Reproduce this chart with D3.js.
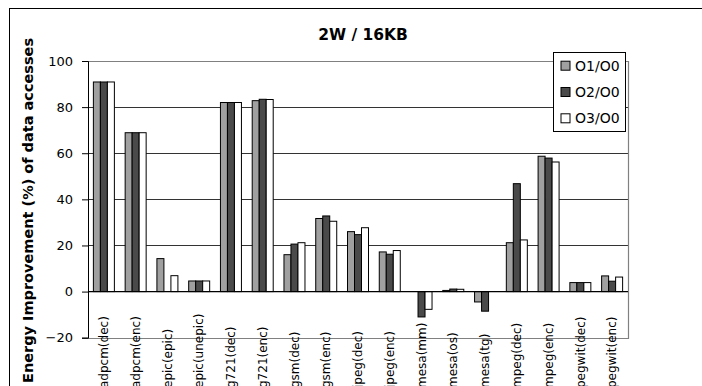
<!DOCTYPE html>
<html><head><meta charset="utf-8">
<script src="https://cdn.jsdelivr.net/npm/d3@7"></script>
<style>body{margin:0;background:#fff;overflow:hidden}svg{display:block}</style>
</head><body>
<script>
const categories = ["adpcm(dec)","adpcm(enc)","epic(epic)","epic(unepic)","g721(dec)","g721(enc)","gsm(dec)","gsm(enc)","jpeg(dec)","jpeg(enc)","mesa(mm)","mesa(os)","mesa(tg)","mpeg(dec)","mpeg(enc)","pegwit(dec)","pegwit(enc)"];
const seriesNames = ["O1/O0","O2/O0","O3/O0"];
const o1 = [90.9, 68.9, 14.3, 4.6, 82.0, 82.8, 16.0, 31.7, 26.0, 17.2, 0, 0.5, -4.5, 21.2, 58.7, 3.9, 6.8];
const o2 = [90.9, 68.9, 0, 4.6, 82.0, 83.4, 20.6, 32.8, 24.7, 16.2, -11.0, 1.1, -8.5, 46.8, 57.9, 3.9, 4.5];
const o3 = [90.9, 68.9, 6.9, 4.6, 82.0, 83.3, 21.2, 30.5, 27.7, 17.8, -7.7, 1.0, 0, 22.4, 56.2, 3.9, 6.3];
const yTicks = [-20, 0, 20, 40, 60, 80, 100];
const title = "2W / 16KB";
const yTitle = "Energy Improvement (%) of data accesses";

const colors = ["#a0a0a0", "#4a4a4a", "#ffffff"];
const W = 702, H = 386;
const L = 88, R = 628, T = 61, B = 337.7;
const font = "'DejaVu Sans', sans-serif";

const svg = d3.select("body").append("svg").attr("width", W).attr("height", H);

// outer chart border
svg.append("rect").attr("x", 9.5).attr("y", 8.5).attr("width", 900).attr("height", 600)
  .attr("fill", "none").attr("stroke", "#000").attr("stroke-width", 1);

const x = d3.scaleBand().domain(categories).range([L, R]).paddingInner(0.339).paddingOuter(0.1695);
const xs = d3.scaleBand().domain(seriesNames).range([0, x.bandwidth()]).padding(0);
const y = d3.scaleLinear().domain([-20, 100]).range([B, T]);

// gridlines
svg.append("g").selectAll("line").data(yTicks.filter(v => v !== 0 && v !== -20 && v !== 100)).join("line")
  .attr("x1", L).attr("x2", R).attr("y1", d => Math.round(y(d)) + 0.5).attr("y2", d => Math.round(y(d)) + 0.5)
  .attr("stroke", "#333").attr("stroke-width", 1);
// plot border (top, right, bottom)
svg.append("path")
  .attr("d", `M${L},${Math.round(T)+0.5}H${R+0.5}V${Math.round(B)+0.5}H${L}`)
  .attr("fill", "none").attr("stroke", "#808080").attr("stroke-width", 1.2);

// bars
const data = categories.map((c, i) => ({c, vals: [o1[i], o2[i], o3[i]]}));
const g = svg.append("g").selectAll("g").data(data).join("g")
  .attr("transform", d => `translate(${x(d.c)},0)`);
g.selectAll("rect").data(d => d.vals.map((v, k) => ({v, k}))).join("rect")
  .filter(d => d.v !== 0)
  .attr("x", d => xs(seriesNames[d.k]))
  .attr("width", xs.bandwidth())
  .attr("y", d => Math.min(y(d.v), y(0)))
  .attr("height", d => Math.abs(y(d.v) - y(0)))
  .attr("fill", d => colors[d.k])
  .attr("stroke", "#000").attr("stroke-width", 1);

// y axis
const yAxis = d3.axisLeft(y).tickValues(yTicks).tickSize(6).tickPadding(9);
const ya = svg.append("g").attr("transform", `translate(${L},0)`).call(yAxis);
ya.select(".domain").attr("stroke", "#000");
ya.selectAll("text").attr("font-family", font).attr("font-size", 13).attr("fill", "#000");

// zero axis
svg.append("line").attr("x1", L).attr("x2", R).attr("y1", y(0)).attr("y2", y(0))
  .attr("stroke", "#000").attr("stroke-width", 1.2);

// category labels
svg.append("g").selectAll("text").data(categories).join("text")
  .attr("transform", d => `translate(${x(d) + x.bandwidth()/2},388) rotate(-90)`)
  .attr("dy", "0.35em").attr("text-anchor", "start")
  .attr("font-family", font).attr("font-size", 12).attr("fill", "#000")
  .text(d => d);

// title
svg.append("text").attr("x", 363).attr("y", 40).attr("text-anchor", "middle")
  .attr("font-family", font).attr("font-size", 15.5).attr("font-weight", "bold").text(title);

// y title
svg.append("text").attr("transform", "translate(33,210.5) rotate(-90)")
  .attr("text-anchor", "middle").attr("font-family", font).attr("font-size", 13.5)
  .attr("font-weight", "bold").attr("textLength", 345).attr("lengthAdjust", "spacingAndGlyphs")
  .text(yTitle);

// legend
const lg = svg.append("g");
lg.append("rect").attr("x", 553.5).attr("y", 52.5).attr("width", 72).attr("height", 79)
  .attr("fill", "#fff").attr("stroke", "#000").attr("stroke-width", 1);
const items = lg.selectAll("g").data(seriesNames).join("g")
  .attr("transform", (d, i) => `translate(0,${65.7 + i * 26.3})`);
items.append("rect").attr("x", 561).attr("y", -4.5).attr("width", 9).attr("height", 9)
  .attr("fill", (d, i) => colors[i]).attr("stroke", "#000").attr("stroke-width", 1);
items.append("text").attr("x", 575).attr("dy", "0.36em")
  .attr("font-family", font).attr("font-size", 14).text(d => d);
</script>
</body></html>
